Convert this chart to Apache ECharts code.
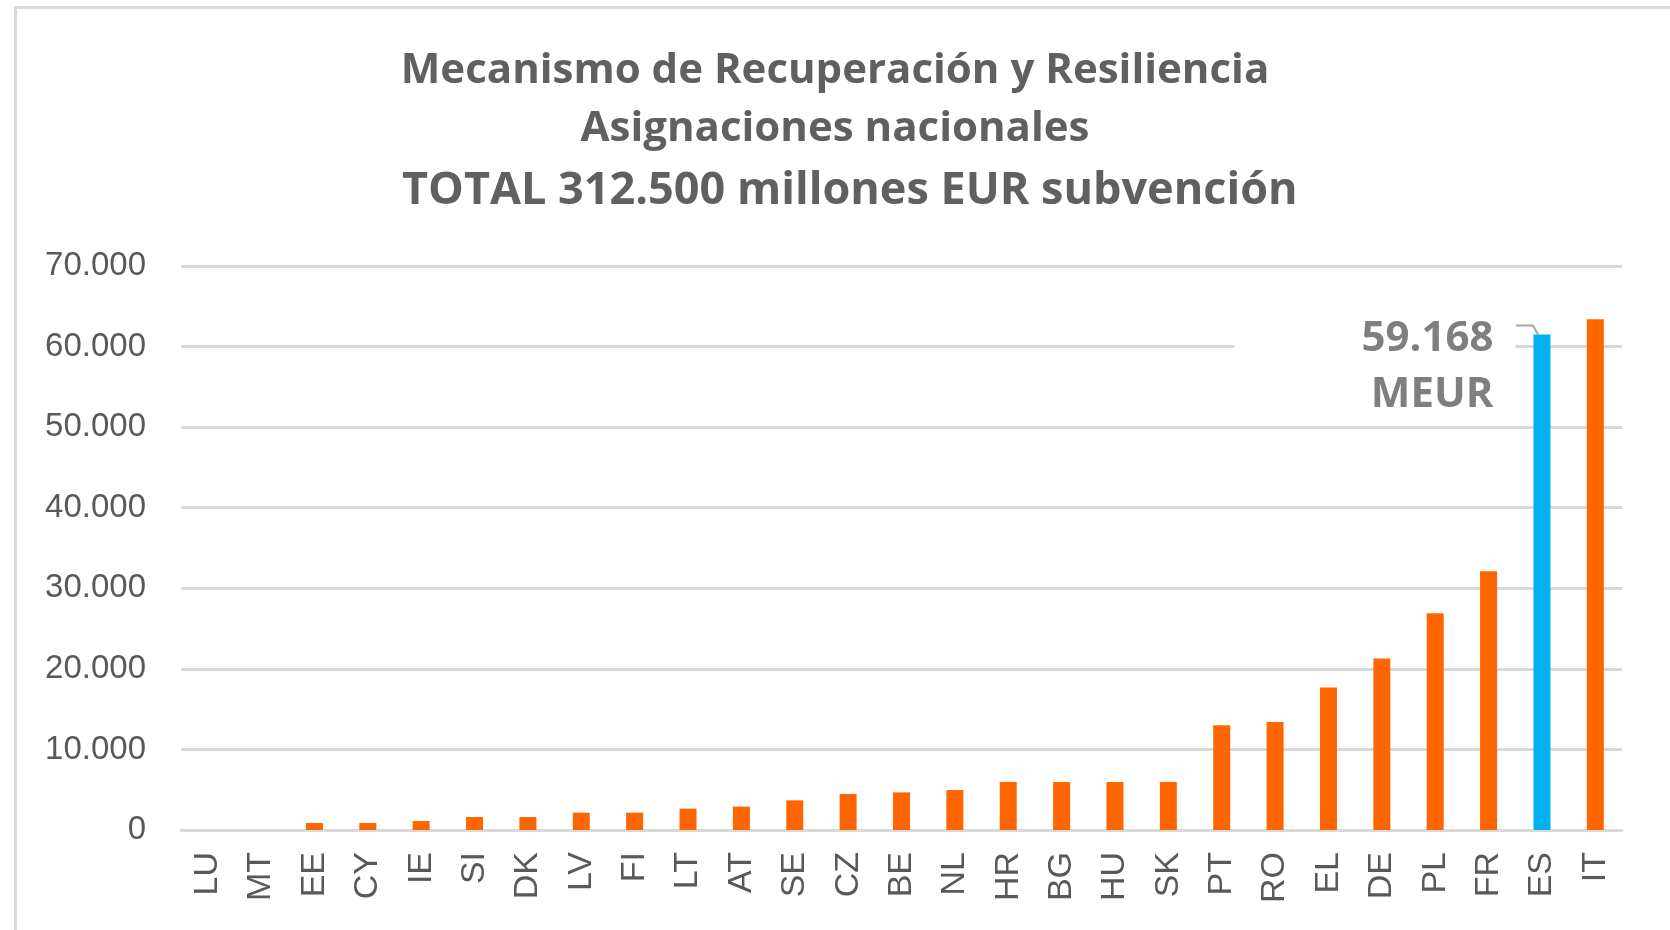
<!DOCTYPE html>
<html>
<head>
<meta charset="utf-8">
<script src="https://cdn.jsdelivr.net/npm/echarts@6/dist/echarts.min.js"></script>
<style>
  html, body { margin: 0; padding: 0; background: #fff; }
  #chart { width: 1670px; height: 930px; }
</style>
</head>
<body>
<div id="chart"></div>
<script>
// Asignaciones nacionales (millones EUR)
const countries = ["LU", "MT", "EE", "CY", "IE", "SI", "DK", "LV", "FI", "LT", "AT", "SE", "CZ", "BE", "NL", "HR", "BG", "HU", "SK", "PT", "RO", "EL", "DE", "PL", "FR", "ES", "IT"];
const grants = [0, 0, 870, 870, 1120, 1610, 1610, 2150, 2150, 2650, 2900, 3680, 4470, 4670, 4960, 5960, 5960, 5960, 5960, 13000, 13400, 17700, 21300, 26900, 32100, 61500, 63400];
const yTicks = [0, 10000, 20000, 30000, 40000, 50000, 60000, 70000];
const highlight = "ES";
const highlightText = "59.168\nMEUR";

const orange = "#FF6600";
const blue = "#00B0F0";
const grey = "#595959";

const chart = echarts.init(document.getElementById("chart"));
const hiIdx = countries.indexOf(highlight);

const seriesData = grants.map((v, i) => {
    if (i !== hiIdx) return v;
    return {
        value: v,
        itemStyle: { color: blue },
        label: {
            show: true,
            formatter: highlightText,
            fontFamily: "Open Sans",
            fontWeight: "bold",
            fontSize: 42,
            lineHeight: 56,
            color: "#7F7F7F",
            align: "right",
            backgroundColor: "#fff",
            padding: [0, 22, 0, 127],
        },
    };
});

const titleStyle = { fontFamily: "Open Sans", fontWeight: "bold", color: "#606060" };
const frame = {
    type: "rect",
    left: 13,
    top: 5,
    shape: { width: 1700, height: 960 },
    style: { fill: "none", stroke: "#D9D9D9", lineWidth: 3 },
    silent: true,
};

chart.setOption({
    animation: false,
    graphic: [frame],
    title: [
        {
            text: "Mecanismo de Recuperación y Resiliencia",
            left: "center",
            top: 46,
            padding: 0,
            textStyle: { ...titleStyle, fontSize: 42, lineHeight: 50 },
        },
        {
            text: "Asignaciones nacionales",
            left: "center",
            top: 104,
            padding: 0,
            textStyle: { ...titleStyle, fontSize: 42, lineHeight: 50 },
        },
        {
            text: "TOTAL 312.500 millones EUR subvención",
            left: 402,
            top: 164,
            padding: 0,
            textStyle: { ...titleStyle, fontSize: 45, lineHeight: 54 },
        },
    ],
    grid: {
        left: 181,
        right: 48,
        top: 266,
        bottom: 100,
        containLabel: false,
    },
    xAxis: {
        type: "category",
        data: countries,
        axisTick: { show: false },
        axisLine: { show: true, lineStyle: { color: "#D9D9D9", width: 3 } },
        axisLabel: {
            rotate: 90,
            interval: 0,
            margin: 22,
            fontFamily: "Liberation Sans",
            fontSize: 34,
            color: grey,
        },
    },
    yAxis: {
        type: "value",
        min: 0,
        max: 70000,
        interval: 10000,
        axisLine: { show: false },
        axisTick: { show: false },
        splitLine: { lineStyle: { color: "#D9D9D9", width: 3 } },
        axisLabel: {
            margin: 35,
            fontFamily: "Liberation Sans",
            fontSize: 33,
            color: grey,
            formatter: (v) => yTicks.includes(v) ? (v === 0 ? "0" : (v / 1000).toFixed(0) + ".000") : "",
        },
    },
    series: [
        {
            type: "bar",
            data: seriesData,
            barWidth: 17,
            itemStyle: { color: orange },
            labelLayout: (params) => {
                if (params.dataIndex !== hiIdx) return {};
                return {
                    x: params.rect.x - 18,
                    y: params.rect.y - 23,
                    align: "right",
                    verticalAlign: "top",
                };
            },
        },
    ],
});

// guía de la etiqueta hasta el extremo de la barra destacada
const barTop = chart.convertToPixel({ xAxisIndex: 0, yAxisIndex: 0 }, [hiIdx, grants[hiIdx]]);
chart.setOption({
    graphic: [
        frame,
        {
            type: "polyline",
            shape: { points: [[barTop[0] - 26, barTop[1] - 9], [barTop[0] - 9, barTop[1] - 9], [barTop[0] - 4, barTop[1]]] },
            style: { fill: "none", stroke: "#A6A6A6", lineWidth: 2 },
            silent: true,
            z: 10,
        },
    ],
});
</script>
</body>
</html>
